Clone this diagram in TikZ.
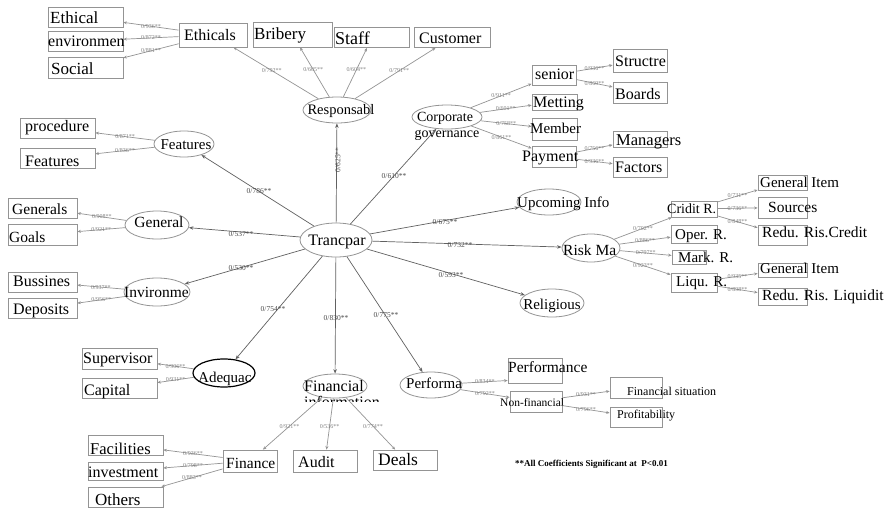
\documentclass[tikz,border=0pt]{standalone}
\usepackage{fontspec}
\setmainfont{Liberation Serif}
\usetikzlibrary{arrows.meta,shapes.geometric}
\newcommand\fs[1]{\fontsize{#1}{#1}\selectfont}
\newcommand\bxn[5]{\node[bx,minimum width=#4pt,minimum height=#5pt] (#1) at (#2,#3) {};}
\newcommand\eln[5]{\node[el,minimum width=#4pt,minimum height=#5pt] (#1) at (#2,#3) {};}
\begin{document}
\begin{tikzpicture}[x=1pt,y=-1pt,
  bx/.style={draw=black!42,line width=0.8pt,inner sep=0,rectangle},
  el/.style={draw=black!42,line width=0.8pt,inner sep=0,ellipse},
  tx/.style={inner sep=0,anchor=base west},
  ctx/.style={inner sep=0,anchor=base},
  sp/.style={draw=black!62,line width=0.7pt,-{Stealth[length=4.5pt,width=3.5pt]}},
  sm/.style={draw=black!42,line width=0.7pt,-{Stealth[length=3.5pt,width=3pt]}},
  cl/.style={font=\fs{6},text=black!50,inner sep=0.3pt},
  ml/.style={font=\fs{7.5},text=black!70,inner sep=0}]
\fill[white] (0,0) rectangle (889,509);
\useasboundingbox (0,0) rectangle (889,509);

% ---------- boxes ----------
\bxn{eth1}{85.5}{17}{75}{20}
\bxn{eth2}{85.5}{41}{75}{20}
\bxn{eth3}{85.5}{67.5}{75}{21}
\bxn{ethc}{213}{35}{68}{24}
\bxn{brib}{292.5}{34.5}{79}{25}
\bxn{staff}{372}{37.5}{75}{20}
\bxn{cust}{452}{37.5}{76}{20}

\bxn{senior}{554}{75}{44}{20}
\bxn{metting}{554.5}{102}{45}{16}
\bxn{member}{554.5}{129}{45}{22}
\bxn{payment}{554}{156.5}{44}{21}
\bxn{structre}{640}{60.5}{54}{23}
\bxn{boards}{640}{92.5}{54}{21}
\bxn{managers}{640}{139.5}{54}{16}
\bxn{factors}{640}{167}{54}{20}

\bxn{procedure}{57.5}{128}{75}{20}
\bxn{featbox}{57.5}{158}{75}{20}
\bxn{generals}{42.5}{208}{69}{20}
\bxn{goals}{42.5}{234.5}{69}{21}
\bxn{bussines}{42.5}{282}{69}{20}
\bxn{deposits}{42.5}{308}{69}{20}
\bxn{supervisor}{119.5}{358.5}{75}{21}
\bxn{capital}{119.5}{388}{75}{20}

\bxn{cridit}{694}{209}{46}{16}
\bxn{oper}{694}{234}{46}{18}
\bxn{mark}{689}{257}{34}{14}
\bxn{liqu}{694}{282.5}{46}{19}
\bxn{gia}{782.5}{182.5}{49}{15}
\bxn{sources}{782.5}{207.5}{49}{21}
\bxn{rrc}{782.5}{235}{49}{20}
\bxn{gib}{782.5}{270}{49}{14}
\bxn{rrl}{782.5}{296.5}{49}{17}

\bxn{perfbox}{535}{370.5}{54}{25}
\bxn{nonfin}{536}{401.5}{52}{21}
\bxn{finsit}{636}{387.5}{52}{21}
\bxn{profit}{636}{417}{52}{20}

\bxn{finance}{250}{461}{54}{22}
\bxn{audit}{325}{461}{64}{22}
\bxn{deals}{405}{460}{64}{20}
\bxn{facil}{125.5}{445}{75}{20}
\bxn{invest}{125.5}{471}{75}{18}
\bxn{others}{125.5}{497}{75}{20}

% ---------- ellipses ----------
\eln{resp}{337}{110}{68}{26}
\eln{corp}{447}{117}{70}{24}
\eln{feat}{184}{144}{60}{26}
\eln{gen}{157}{225}{64}{28}
\eln{trans}{336}{240}{72}{34}
\eln{upc}{549}{202}{64}{26}
\eln{risk}{591}{248}{58}{28}
\eln{rel}{552}{303}{64}{28}
\eln{inv}{157}{292}{66}{28}
\node[ellipse,draw=black,line width=1.2pt,inner sep=0,minimum width=62pt,minimum height=28pt] (adeq) at (224,373) {};
\eln{fin}{335}{386}{64}{24}
\eln{perf}{431}{385}{62}{26}

% ---------- texts ----------
\node[tx,font=\fs{17}] (eth1t) at (50,23.5) {Ethical};
\node[tx,font=\fs{16}] (eth2t) at (48,46) {environmen};
\node[tx,font=\fs{17}] (eth3t) at (51,74) {Social};
\node[tx,font=\fs{16}] (ethct) at (184,40) {Ethicals};
\node[tx,font=\fs{17}] (bribt) at (254,39) {Bribery};
\node[tx,font=\fs{18}] (stafft) at (335,44) {Staff};
\node[tx,font=\fs{16}] (custt) at (419,43) {Customer};
\node[ctx,font=\fs{14.5}] (respt) at (341,114) {Responsabl};
\node[ctx,font=\fs{14}] (corpt1) at (445,121) {Corporate};
\node[ctx,font=\fs{14}] (corpt2) at (447,137) {governance};

\node[tx,font=\fs{16}] (seniort) at (535,79) {senior};
\node[tx,font=\fs{16}] (mettingt) at (533,107) {Metting};
\node[tx,font=\fs{15}] (membert) at (530,133) {Member};
\node[tx,font=\fs{16}] (paymentt) at (522,161) {Payment};
\node[tx,font=\fs{16}] (structret) at (615,66) {Structre};
\node[tx,font=\fs{16}] (boardst) at (615,99) {Boards};
\node[tx,font=\fs{16.5}] (managerst) at (616,145) {Managers};
\node[tx,font=\fs{16}] (factorst) at (615,172) {Factors};

\node[ctx,font=\fs{15}] (featt) at (186,149) {Features};
\node[tx,font=\fs{16}] (proceduret) at (25,131) {procedure};
\node[tx,font=\fs{16}] (featboxt) at (25,166) {Features};
\node[ctx,font=\fs{15.5}] (gent) at (159,227) {General};
\node[tx,font=\fs{15.5}] (generalst) at (12,214) {Generals};
\node[tx,font=\fs{15.5}] (goalst) at (9,242) {Goals};
\node[ctx,font=\fs{16}] (transt) at (337,245) {Trancpar};
\node[tx,font=\fs{15.5}] (invt) at (124,297) {Invironme};
\node[tx,font=\fs{16}] (bussinest) at (13,286) {Bussines};
\node[tx,font=\fs{16}] (depositst) at (13,314) {Deposits};
\node[tx,font=\fs{15}] (adeqt) at (198,382) {Adequac};
\node[tx,font=\fs{16}] (supervisort) at (83,363) {Supervisor};
\node[tx,font=\fs{16}] (capitalt) at (84,395) {Capital};

\node[tx,font=\fs{15}] (upct) at (517,207) {Upcoming Info};
\node[tx,font=\fs{15.5}] (riskt) at (563,255) {Risk Ma};
\node[ctx,font=\fs{15}] (relt) at (552,309) {Religious};
\node[tx,font=\fs{14}] (criditt) at (667,213) {Cridit R.};
\node[tx,font=\fs{15}] (opert) at (675,239) {Oper. R.};
\node[tx,font=\fs{15}] (markt) at (678,262) {Mark. R.};
\node[tx,font=\fs{15}] (liqut) at (676,286) {Liqu. R.};
\node[tx,font=\fs{15}] (giat) at (760,187) {General Item};
\node[tx,font=\fs{15.5}] (sourcest) at (768,212) {Sources};
\node[tx,font=\fs{15.5}] (rrct) at (762,237) {Redu. Ris.Credit};
\node[tx,font=\fs{15}] (gibt) at (760,273) {General Item};
\node[tx,font=\fs{15.5}] (rrlt) at (762,300) {Redu. Ris. Liquidit};

\node[tx,font=\fs{16}] (fint) at (304,391) {Financial};
\begin{scope}
  \clip (295,393) rectangle (380,401.5);
  \node[tx,font=\fs{16}] (fint2) at (304,407) {information};
\end{scope}
\node[tx,font=\fs{15}] (perft) at (406,388) {Performa};
\node[tx,font=\fs{15.5}] (perfboxt) at (508,372) {Performance};
\node[tx,font=\fs{11.5}] (nonfint) at (500,406) {Non-financial};
\node[tx,font=\fs{12}] (finsitt) at (627,395) {Financial situation};
\node[tx,font=\fs{12}] (profitt) at (617,418) {Profitability};

\node[tx,font=\fs{15.5}] (financet) at (226,468) {Finance};
\node[tx,font=\fs{16}] (auditt) at (298,467) {Audit};
\node[tx,font=\fs{17.5}] (dealst) at (378,465) {Deals};
\node[tx,font=\fs{16.5}] (facilt) at (90,454) {Facilities};
\node[tx,font=\fs{16}] (investt) at (88,477) {investment};
\node[tx,font=\fs{17}] (otherst) at (95,505) {Others};

\node[tx,font=\bfseries\fs{9}] (note) at (515,466) {**All Coefficients Significant at~~P<0.01};

% ---------- main spokes ----------
\draw[sp] (trans) -- (resp);
\draw[sp] (trans) -- (corp);
\draw[sp] (trans) -- (feat);
\draw[sp] (trans) -- (gen);
\draw[sp] (trans) -- (inv);
\draw[sp] (trans) -- (adeq);
\draw[sp] (trans) -- (fin);
\draw[sp] (trans) -- (perf);
\draw[sp] (trans) -- (upc);
\draw[sp] (trans) -- (risk);
\draw[sp] (trans) -- (rel);

\node[ml,rotate=90] (c1) at (338,160) {0/625**};
\node[ml] (c2) at (394,176) {0/610**};
\node[ml] (c3) at (259,191) {0/786**};
\node[ml] (c4) at (241,234) {0/537**};
\node[ml] (c5) at (241,268) {0/530**};
\node[ml] (c6) at (273,309) {0/754**};
\node[ml] (c7) at (336,318) {0/830**};
\node[ml] (c8) at (386,315) {0/775**};
\node[ml] (c9) at (445,222) {0/675**};
\node[ml] (c10) at (460,245) {0/732**};
\node[ml] (c11) at (451,275) {0/593**};

% ---------- sub connectors ----------
\draw[sm] (ethc) -- node[cl]{0/936**} (eth1);
\draw[sm] (ethc) -- node[cl]{0/872**} (eth2);
\draw[sm] (ethc) -- node[cl]{0/881**} (eth3);
\draw[sm] (resp) -- node[cl,pos=0.55]{0/792**} (ethc);
\draw[sm] (resp) -- node[cl,pos=0.55]{0/605**} (brib);
\draw[sm] (resp) -- node[cl,pos=0.55]{0/604**} (staff);
\draw[sm] (resp) -- node[cl,pos=0.55]{0/791**} (cust);

\draw[sm] (corp) -- node[cl]{0/911**} (senior);
\draw[sm] (corp) -- node[cl]{0/601**} (metting);
\draw[sm] (corp) -- node[cl]{0/758**} (member);
\draw[sm] (corp) -- node[cl]{0/861**} (payment);
\draw[sm] (senior) -- node[cl]{0/936**} (structre);
\draw[sm] (senior) -- node[cl]{0/869**} (boards);
\draw[sm] (payment) -- node[cl]{0/756**} (managers);
\draw[sm] (payment) -- node[cl]{0/936**} (factors);

\draw[sm] (feat) -- node[cl]{0/871**} (procedure);
\draw[sm] (feat) -- node[cl]{0/836**} (featbox);
\draw[sm] (gen) -- node[cl]{0/908**} (generals);
\draw[sm] (gen) -- node[cl]{0/921**} (goals);
\draw[sm] (inv) -- node[cl]{0/937**} (bussines);
\draw[sm] (inv) -- node[cl]{0/956**} (deposits);
\draw[sm] (adeq) -- node[cl]{0/906**} (supervisor);
\draw[sm] (adeq) -- node[cl]{0/931**} (capital);

\draw[sm] (risk) -- node[cl]{0/702**} (cridit);
\draw[sm] (risk) -- node[cl]{0/886**} (oper);
\draw[sm] (risk) -- node[cl]{0/797**} (mark);
\draw[sm] (risk) -- node[cl]{0/923**} (liqu);
\draw[sm] (cridit) -- node[cl]{0/731**} (gia);
\draw[sm] (cridit) -- node[cl]{0/736**} (sources);
\draw[sm] (cridit) -- node[cl]{0/848**} (rrc);
\draw[sm] (liqu) -- node[cl]{0/935**} (gib);
\draw[sm] (liqu) -- node[cl]{0/898**} (rrl);

\draw[sm] (perf) -- node[cl]{0/834**} ([yshift=-10pt]perfbox.west);
\draw[sm] (perf) -- node[cl]{0/792**} (nonfin);
\draw[sm] (nonfin) -- node[cl]{0/931**} (finsit);
\draw[sm] (nonfin) -- node[cl]{0/796**} (profit);

\draw[sm] (fin) -- node[cl,pos=0.55]{0/921**} (finance);
\draw[sm] (fin) -- node[cl,pos=0.55]{0/536**} (audit);
\draw[sm] (fin) -- node[cl,pos=0.55]{0/774**} (deals);
\draw[sm] (finance) -- node[cl]{0/936**} (facil);
\draw[sm] (finance) -- node[cl]{0/798**} (invest);
\draw[sm] (finance) -- node[cl]{0/883**} (others);
\end{tikzpicture}
\end{document}
